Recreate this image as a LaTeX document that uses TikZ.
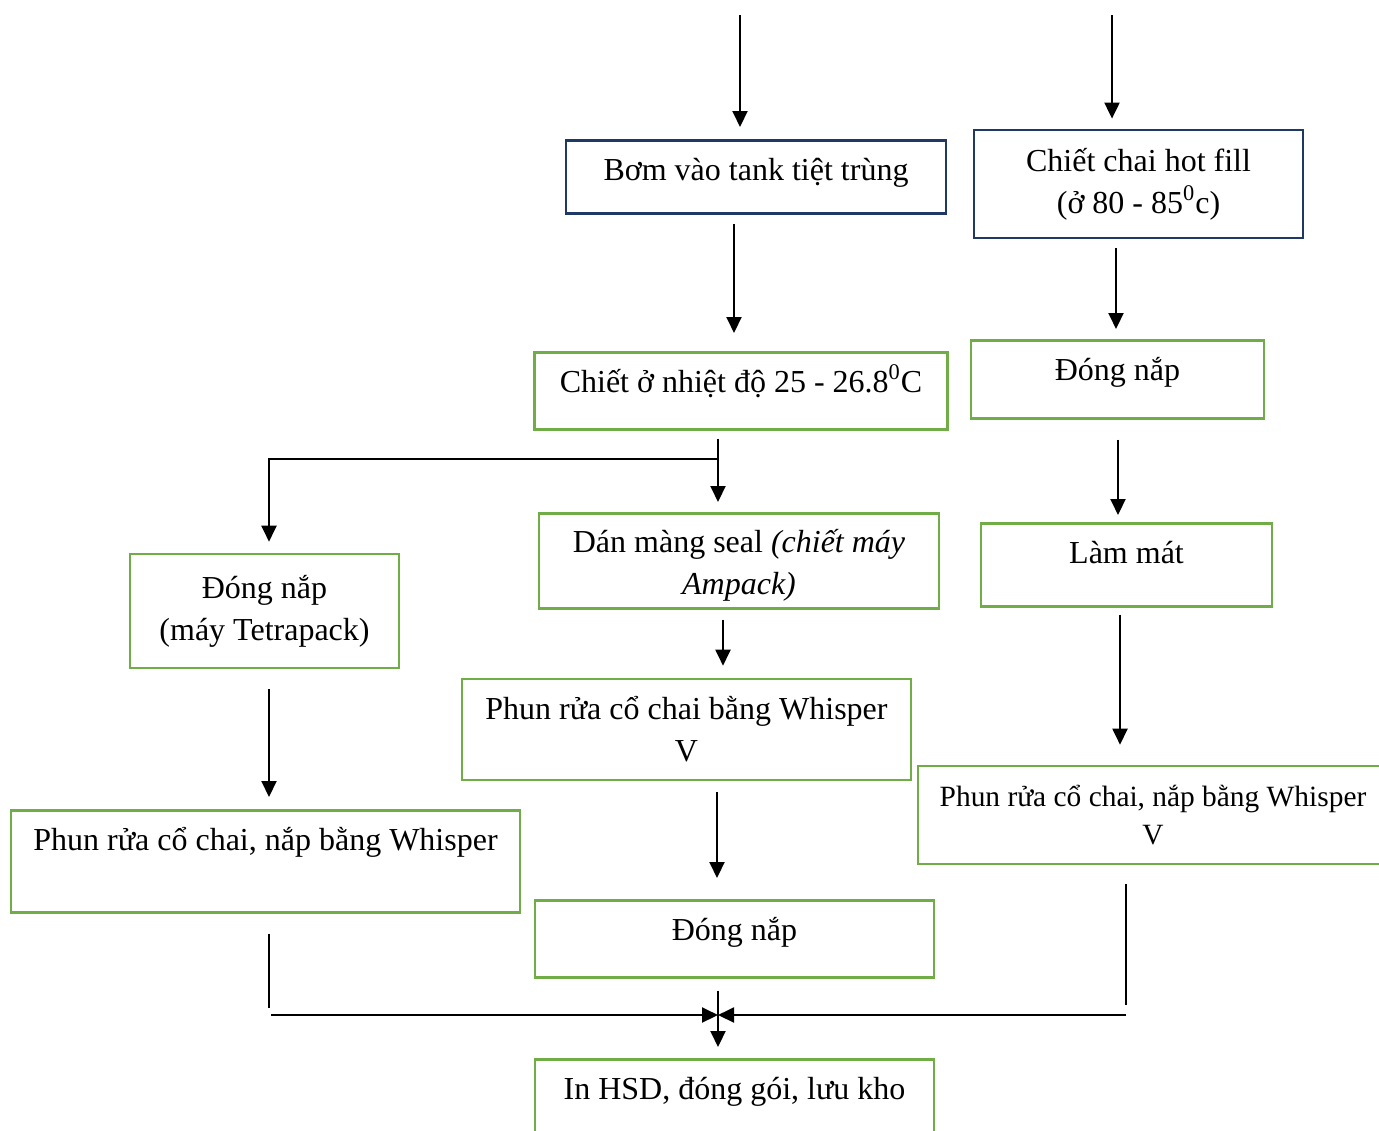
\documentclass[tikz,border=0pt]{standalone}
\usepackage{fontspec}
\setmainfont{Liberation Serif}
\usetikzlibrary{arrows.meta,calc}
\definecolor{boxblue}{RGB}{32,56,100}
\definecolor{boxgreen}{RGB}{112,173,71}
\tikzset{
  stage/.style={draw=boxgreen, line width=1.3pt, inner sep=0pt, align=center,
    font=\fontsize{16}{21}\selectfont},
  firststage/.style={stage, draw=boxblue, line width=1.4pt},
  oneline/.style={anchor=north, text height=20pt},
  arr/.style={line width=1pt, -{Triangle[length=8pt,width=7.5pt]}},
  plain/.style={line width=1pt}
}
\begin{document}
\begin{tikzpicture}[x=0.5pt,y=-0.5pt]
\useasboundingbox (0,0) rectangle (1379,1130);
\clip (0,0) rectangle (1379,1130);

% boxes
\node[firststage, oneline, minimum width=190pt, text depth=16.5pt] (bom) at (756,139) {Bơm vào tank tiệt trùng};
\node[firststage, minimum width=164.5pt, minimum height=54pt] (hotfill) at (1138.5,184) {Chiết chai hot fill\\(ở 80 - 85\textsuperscript{0}c)};
\node[stage, oneline, minimum width=206.5pt, text depth=18.5pt] (chietlanh) at (741,351) {Chiết ở nhiệt độ 25 - 26.8\textsuperscript{0}C};
\node[stage, oneline, minimum width=146.5pt, text depth=19pt] (dongnapR) at (1117.5,339) {Đóng nắp};
\node[stage, anchor=north, minimum width=200pt, text height=40.5pt, text depth=7pt] (dan) at (739,512) {Dán màng seal \textit{(chiết máy}\\\textit{Ampack)}};
\node[stage, oneline, minimum width=145.5pt, text depth=21.5pt] (lammat) at (1126.5,522) {Làm mát};
\node[stage, minimum width=134.5pt, minimum height=57pt] (dongnapL) at (264.5,611) {Đóng nắp\\(máy Tetrapack)};
\node[stage, minimum width=224.5pt, minimum height=50.5pt] (phunM) at (686.5,729.5) {Phun rửa cổ chai bằng Whisper\\V};
\node[stage, minimum width=235pt, minimum height=49pt, font=\fontsize{14.7}{19}\selectfont] (phunR) at (1153,815) {Phun rửa cổ chai, nắp bằng Whisper\\V};
\node[stage, oneline, minimum width=254.5pt, text depth=31pt] (phunL) at (265.5,809) {Phun rửa cổ chai, nắp bằng Whisper};
\node[stage, oneline, minimum width=199.5pt, text depth=18.5pt] (dongnapM) at (734.5,899) {Đóng nắp};
\node[stage, oneline, minimum width=199.5pt, text depth=30pt] (inhsd) at (734.5,1058) {In HSD, đóng gói, lưu kho};

% connectors
\coordinate (inL) at (740,15);
\coordinate (inR) at (1112,15);
\coordinate (split) at (718,459);
\coordinate (join) at (718,1015);
\coordinate (mergeL) at (271,1015);
\coordinate (mergeR) at (1126,1015);

\draw[arr, shorten >=6pt] (inL) -- (inL |- bom.north);
\draw[arr, shorten >=5pt] (inR) -- (inR |- hotfill.north);
\draw[arr] ($(bom.south)+(-22,9)$) -- ($(chietlanh.north)+(-7,-18)$);
\draw[arr] ($(hotfill.south)+(-22.5,9)$) -- ($(dongnapR.north)+(-1.5,-10)$);
\draw[arr] ($(chietlanh.south)+(-23,8)$) -- ($(dan.north)+(-21,-10)$);
\draw[arr] (split) -| ($(dongnapL.north)+(4.5,-11)$);
\draw[arr] ($(dongnapR.south)+(0.5,20)$) -- ($(lammat.north)+(-8.5,-7)$);
\draw[arr] ($(dan.south)+(-16,10)$) -- ($(phunM.north)+(36.5,-12)$);
\draw[arr] ($(dongnapL.south)+(4.5,20)$) -- ($(phunL.north)+(3.5,-12)$);
\draw[arr] ($(lammat.south)+(-6.5,7)$) -- ($(phunR.north)+(-33,-20)$);
\draw[arr] ($(phunM.south)+(30.5,11)$) -- ($(dongnapM.north)+(-17.5,-21)$);
\draw[plain] ($(phunL.south)+(3.5,20)$) -- ($(phunL.south)+(3.5,94)$);
\draw[plain] ($(phunR.south)+(-27,19)$) -- ($(phunR.south)+(-27,140)$);
\draw[arr] (mergeL) -- (join);
\draw[arr] (mergeR) -- (join);
\draw[arr] ($(dongnapM.south)+(-16.5,12)$) -- ($(inhsd.north)+(-16.5,-11)$);

\end{tikzpicture}
\end{document}
